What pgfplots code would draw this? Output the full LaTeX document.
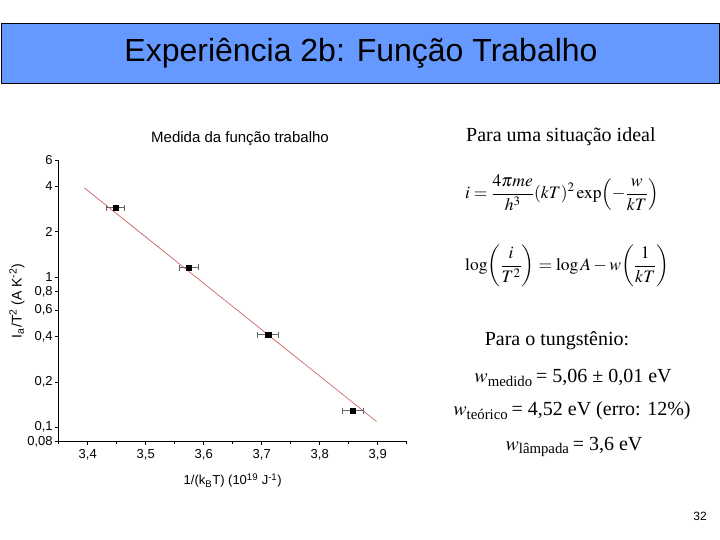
\documentclass[border=0pt]{standalone}
\usepackage{mathptmx}
\usepackage[no-math]{fontspec}
\setmainfont{Liberation Sans}
\newfontfamily\timesfont{Liberation Serif}
\usepackage{pgfplots}
\pgfplotsset{compat=1.18}
\definecolor{banner}{RGB}{102,153,255}
\definecolor{fitred}{RGB}{205,80,80}
\definecolor{errgray}{RGB}{100,100,100}
\begin{document}
\begin{tikzpicture}
\path[use as bounding box] (0,0) rectangle (720pt,540pt);
\fill[white] (0,0) rectangle (720pt,540pt);
% header banner
\draw[fill=banner, line width=0.8pt] (1pt,457pt) rectangle (719.6pt,517pt);
\node[font=\fontsize{32}{36}\selectfont, inner sep=0pt] at (361pt,487pt) {Experiência 2b: Função Trabalho};
% chart
\begin{axis}[
  at={(58.7pt,98.3pt)}, anchor=south west,
  scale only axis, width=348pt, height=281.7pt,
  ymode=log,
  xmin=3.35, xmax=3.95, ymin=0.08, ymax=6,
  axis x line*=bottom, axis y line*=left,
  axis line style={-, line width=0.8pt},
  tick align=outside,
  major tick length=3.5pt, minor tick length=2pt,
  tick style={black, line width=0.6pt},
  xtick={3.4,3.5,3.6,3.7,3.8,3.9},
  xticklabels={{3,4},{3,5},{3,6},{3,7},{3,8},{3,9}},
  minor xtick={3.35,3.45,3.55,3.65,3.75,3.85,3.95},
  ytick={0.08,0.1,0.2,0.4,0.6,0.8,1,2,4,6},
  yticklabels={{0,08},{0,1},{0,2},{0,4},{0,6},{0,8},1,2,4,6},
  yminorticks=false,
  ticklabel style={font=\fontsize{13}{14}\selectfont},
  xticklabel style={yshift=-1pt},
  yticklabel style={xshift=1pt},
  title={Medida da função trabalho},
  title style={font=\fontsize{15}{16}\selectfont, at={(axis description cs:0.521,1.053)}, anchor=center, inner sep=0pt},
  xlabel={1/(k\textsubscript{B}T) (10\textsuperscript{19} J\textsuperscript{-1})},
  xlabel style={font=\fontsize{13}{14}\selectfont, at={(axis description cs:0.5,-0.138)}, anchor=center, inner sep=0pt},
  ylabel={I\textsubscript{a}/T\textsuperscript{2} (A K\textsuperscript{-2})},
  ylabel style={font=\fontsize{14}{15}\selectfont, at={(axis description cs:-0.12,0.5)}, anchor=center, rotate=0, inner sep=0pt},
  clip=false,
]
\addplot[fitred, line width=0.6pt] coordinates {(3.394,3.92) (3.898,0.109)};
\addplot[only marks, mark=square*, mark size=2.7pt, black,
  error bars/.cd, x dir=both, x explicit,
  error bar style={errgray, line width=0.6pt},
  error mark options={errgray, rotate=90, mark size=3pt, line width=0.6pt}]
  coordinates {
   (3.448,2.89) +- (0.0153,0)
   (3.5746,1.155) +- (0.0164,0)
   (3.711,0.412) +- (0.018,0)
   (3.857,0.1285) +- (0.0187,0)
  };
\end{axis}
% right text
\begin{scope}[every node/.style={inner sep=0pt}]
\node[anchor=west, font=\timesfont\fontsize{20}{24}\selectfont] at (466pt,403pt) {Para uma situação ideal};
\node[anchor=west, font=\fontsize{17.5}{20}\selectfont] at (465pt,347pt) {$\displaystyle i=\frac{4\pi me}{h^{3}}(kT)^{2}\exp\!\left(-\frac{w}{kT}\right)$};
\node[anchor=west, font=\fontsize{17.5}{20}\selectfont] at (465pt,274pt) {$\displaystyle \log\!\left(\frac{i}{T^{2}}\right)=\log A-w\!\left(\frac{1}{kT}\right)$};
\node[font=\timesfont\fontsize{20}{24}\selectfont] at (557pt,199pt) {Para o tungstênio:};
\node[font=\timesfont\fontsize{20}{24}\selectfont] at (573pt,162pt) {$w$\textsubscript{medido}\,= 5,06 ± 0,01 eV};
\node[font=\timesfont\fontsize{20}{24}\selectfont] at (572pt,129pt) {$w$\textsubscript{teórico}\,= 4,52 eV (erro: 12\%)};
\node[font=\timesfont\fontsize{20}{24}\selectfont] at (574pt,93pt) {$w$\textsubscript{lâmpada}\,= 3,6 eV};
\node[font=\fontsize{12}{14}\selectfont] at (700pt,24pt) {32};
\end{scope}
\end{tikzpicture}
\end{document}
